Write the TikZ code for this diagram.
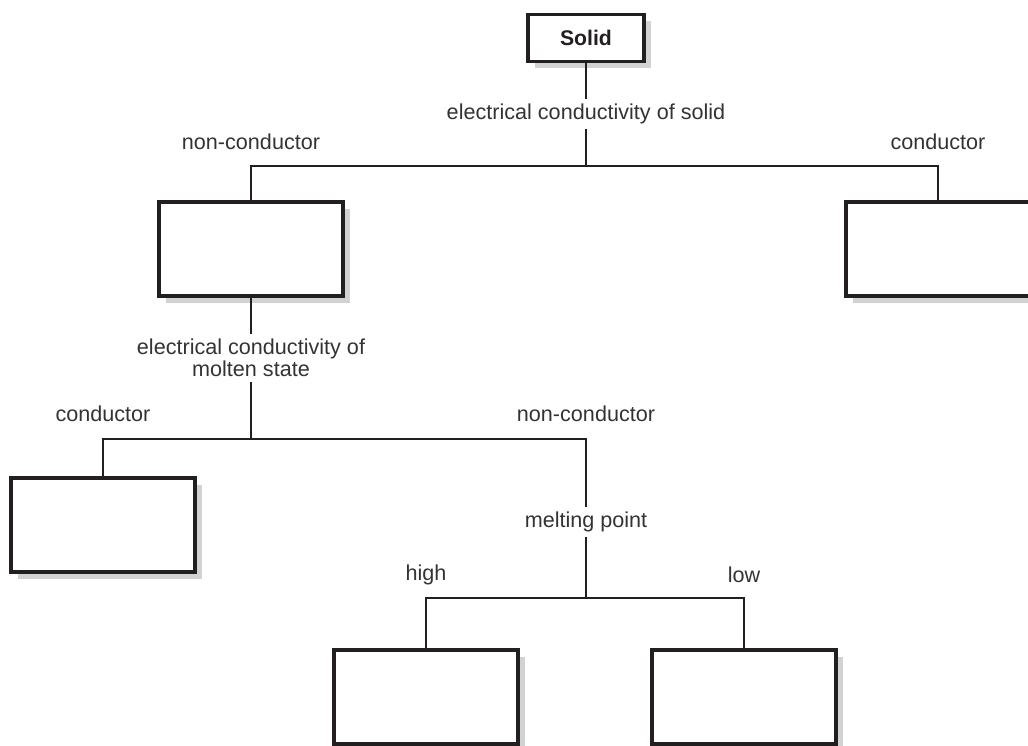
\documentclass[tikz,border=0pt]{standalone}
\usepackage{fontspec}
\setmainfont{Liberation Sans}
\usepackage{tikz}
\usetikzlibrary{shadows}
\definecolor{ink}{HTML}{231F20}
\definecolor{shade}{HTML}{D1D2D4}
\definecolor{txt}{HTML}{333333}
\tikzset{
  conn/.style={draw=ink, line width=1.3pt},
  box/.style={draw=ink, line width=1.6pt, fill=white, inner sep=0pt, outer sep=0pt,
    minimum width=92pt, minimum height=47pt,
    drop shadow={shadow xshift=3.3pt, shadow yshift=-3.3pt, fill=shade, opacity=1}},
  topbox/.style={box, minimum width=58pt, minimum height=23.5pt,
    text=ink, font=\fontsize{10.6}{12}\selectfont\bfseries},
  lbl/.style={text=txt, font=\fontsize{10.8}{11}\selectfont, inner sep=2.5pt},
  qlbl/.style={lbl, align=center}
}

\begin{document}
\begin{tikzpicture}[x=0.5pt, y=-0.5pt]
  \useasboundingbox (0,0) rectangle (1028,745);
  \clip (0,0) rectangle (1028,745);

  \node[topbox] (solid) at (586,38) {Solid};
  \node[box] (nonsolid) at (251,249) {};
  \node[box] (consolid) at (938,249) {};
  \node[box] (conmolten) at (103,525) {};
  \node[box] (high) at (426,697) {};
  \node[box] (low) at (744,697) {};

  \node[qlbl] (qsolid) at (586,114) {electrical conductivity of solid};
  \node[qlbl] (qmolten) at (251,358) {electrical conductivity of\\molten state};
  \node[qlbl] (qmelt) at (586,522) {melting point};

  \coordinate (jsolid) at (586,166);
  \coordinate (jmolten) at (251,439);
  \coordinate (jmelt) at (586,598);

  \draw[conn] (solid) -- (qsolid);
  \draw[conn] (qsolid) -- (jsolid);
  \draw[conn] (nonsolid.north) |- (jsolid) -| (consolid.north);

  \draw[conn] (nonsolid) -- (qmolten);
  \draw[conn] (qmolten) -- (jmolten);
  \draw[conn] (conmolten.north) |- (jmolten) -| (qmelt);

  \draw[conn] (qmelt) -- (jmelt);
  \draw[conn] (high.north) |- (jmelt) -| (low.north);

  \node[lbl] (lnonsolid) at (251,142) {non-conductor};
  \node[lbl] (lconsolid) at (938,142) {conductor};
  \node[lbl] (lconmolten) at (103,414) {conductor};
  \node[lbl] (lnonmolten) at (586,414) {non-conductor};
  \node[lbl] (lhigh) at (426,575) {high};
  \node[lbl] (llow) at (744,575) {low};
\end{tikzpicture}
\end{document}
